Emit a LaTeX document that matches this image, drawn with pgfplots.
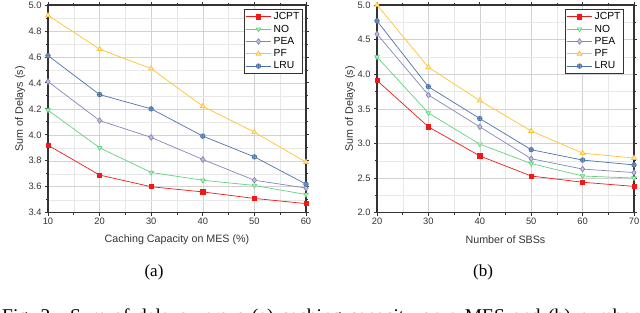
\documentclass[border=0pt]{standalone}
\usepackage{fontspec}
\setmainfont{Liberation Sans}
\newfontfamily\timesfont{Liberation Serif}
\usepackage{pgfplots}
\pgfplotsset{compat=1.18}
\definecolor{cJ}{HTML}{F21818}
\definecolor{cN}{HTML}{5FD47E}
\definecolor{cP}{HTML}{8585BA}
\definecolor{cF}{HTML}{FFC22E}
\definecolor{cL}{HTML}{4D72AB}
\definecolor{txt}{HTML}{333333}
\pgfplotsset{
  mystyle/.style={
    scale only axis,
    anchor=south west,
    axis line style={txt, line width=1.2pt},
    tick style={txt, line width=0.8pt},
    tick align=outside,
    major tick length=3pt, minor tick length=2pt,
    minor x tick num=1, minor y tick num=1,
    grid=both,
    major grid style={gray!35, line width=0.5pt},
    minor grid style={gray!18, line width=0.4pt},
    tick label style={font=\fontsize{9.3}{10}\selectfont, text=txt},
    xticklabel style={yshift=1pt},
    label style={font=\fontsize{10.7}{12}\selectfont, text=txt},
    /pgf/number format/assume math mode=true,
    yticklabel style={/pgf/number format/.cd, fixed, fixed zerofill, precision=1},
    legend cell align=left,
    legend style={font=\fontsize{10.3}{11}\selectfont, draw=txt, line width=0.6pt, inner sep=1.2pt, row sep=-0.3pt},
    legend image code/.code={\draw[mark repeat=2,mark phase=2] plot coordinates {(0cm,0cm) (0.45cm,0cm) (0.9cm,0cm)};},
    legend image post style={line width=0.7pt},
    every axis plot/.append style={line width=0.7pt},
  },
  jc/.style={color=cJ, mark=square*, mark size=2.1pt, mark options={fill=cJ}},
  no/.style={color=cN, mark=triangle*, mark size=2.6pt, mark options={rotate=180, fill=cN!40}},
  pe/.style={color=cP, mark=diamond*, mark size=2.8pt, mark options={fill=cP!50}},
  pf/.style={color=cF, mark=triangle*, mark size=2.8pt, mark options={fill=cF!40}},
  lr/.style={color=cL, mark=oplus*, mark size=2.3pt, mark options={fill=cL!60}},
}
\begin{document}
\begin{tikzpicture}
\useasboundingbox (0pt,0pt) rectangle (640pt,313pt);
\begin{axis}[mystyle, at={(48pt,100.3pt)}, width=258pt, height=207.7pt,
  xmin=10, xmax=60, ymin=3.4, ymax=5.0,
  xtick={10,20,30,40,50,60}, ytick={3.4,3.6,3.8,4.0,4.2,4.4,4.6,4.8,5.0},
  xlabel={Caching Capacity on MES (\%)}, ylabel={Sum of Delays (s)},
  x label style={at={(axis description cs:0.5,-0.128)}, anchor=center},
  y label style={at={(axis description cs:-0.108,0.5)}, anchor=center, rotate=0},
  legend style={at={(axis description cs:0.988,0.981)}, anchor=north east}]
\addplot[jc] coordinates {(10,3.92) (20,3.69) (30,3.60) (40,3.56) (50,3.51) (60,3.47)};
\addplot[no] coordinates {(10,4.19) (20,3.90) (30,3.71) (40,3.65) (50,3.61) (60,3.54)};
\addplot[pe] coordinates {(10,4.41) (20,4.11) (30,3.98) (40,3.81) (50,3.65) (60,3.59)};
\addplot[pf] coordinates {(10,4.92) (20,4.66) (30,4.51) (40,4.22) (50,4.02) (60,3.79)};
\addplot[lr] coordinates {(10,4.61) (20,4.31) (30,4.20) (40,3.99) (50,3.83) (60,3.62)};
\legend{JCPT,NO,PEA,PF,LRU}
\end{axis}
\begin{axis}[mystyle, at={(377pt,100.3pt)}, width=257pt, height=207.7pt,
  xmin=20, xmax=70, ymin=2.0, ymax=5.0,
  xtick={20,30,40,50,60,70}, ytick={2.0,2.5,3.0,3.5,4.0,4.5,5.0},
  xlabel={Number of SBSs}, ylabel={Sum of Delays (s)},
  x label style={at={(axis description cs:0.5,-0.128)}, anchor=center},
  y label style={at={(axis description cs:-0.105,0.5)}, anchor=center, rotate=0},
  legend style={at={(axis description cs:0.961,0.981)}, anchor=north east}]
\addplot[jc] coordinates {(20,3.91) (30,3.24) (40,2.82) (50,2.53) (60,2.44) (70,2.38)};
\addplot[no] coordinates {(20,4.25) (30,3.44) (40,2.99) (50,2.71) (60,2.53) (70,2.50)};
\addplot[pe] coordinates {(20,4.58) (30,3.70) (40,3.24) (50,2.78) (60,2.63) (70,2.58)};
\addplot[pf] coordinates {(20,5.00) (30,4.10) (40,3.62) (50,3.18) (60,2.86) (70,2.79)};
\addplot[lr] coordinates {(20,4.77) (30,3.82) (40,3.36) (50,2.91) (60,2.76) (70,2.69)};
\legend{JCPT,NO,PEA,PF,LRU}
\end{axis}
\node[font=\timesfont\fontsize{17}{18}\selectfont] at (154pt,41pt) {(a)};
\node[font=\timesfont\fontsize{17}{18}\selectfont] at (483pt,41pt) {(b)};
\node[anchor=base west, inner sep=0pt, font=\timesfont\fontsize{19.5}{20}\selectfont] at (2pt,-9.5pt) {\spaceskip=7.5pt Fig.~2.\ \ Sum of delays versus (a) caching capacity on a MES and (b) number of SBSs.};
\end{tikzpicture}
\end{document}
